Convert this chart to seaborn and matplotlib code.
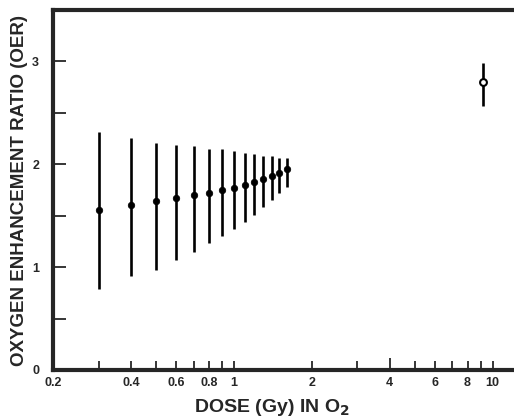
import matplotlib
matplotlib.use("Agg")
import matplotlib.pyplot as plt
import matplotlib.ticker as mticker
import pandas as pd
import seaborn as sns

# doses (Gy) and OER
dose = [0.3, 0.4, 0.5, 0.6, 0.7, 0.8, 0.9, 1.0, 1.1, 1.2, 1.3, 1.4, 1.5, 1.6]
oer = [1.56, 1.60, 1.64, 1.67, 1.70, 1.72, 1.75, 1.77, 1.80, 1.83, 1.86, 1.89, 1.92, 1.95]
oer_low = [0.79, 0.91, 0.97, 1.07, 1.15, 1.23, 1.30, 1.37, 1.44, 1.51, 1.58, 1.65, 1.72, 1.78]
oer_high = [2.31, 2.26, 2.21, 2.19, 2.18, 2.15, 2.15, 2.13, 2.11, 2.10, 2.08, 2.08, 2.06, 2.06]

# single high-dose point (open circle)
dose_hi = [9.2]
oer_hi = [2.80]
oer_hi_low = [2.57]
oer_hi_high = [2.99]

major_x = [0.2, 0.4, 0.6, 0.8, 1, 2, 4, 6, 8, 10]
major_x_labels = ["0.2", "0.4", "0.6", "0.8", "1", "2", "4", "6", "8", "10"]
minor_x = [0.3, 0.5, 0.7, 0.9, 3, 5, 7, 9]

df = pd.DataFrame({"dose": dose, "oer": oer})
df_hi = pd.DataFrame({"dose": dose_hi, "oer": oer_hi})

sns.set_style("ticks")
plt.rcParams["font.family"] = ["Liberation Sans", "DejaVu Sans"]
plt.rcParams["font.weight"] = "bold"

fig = plt.figure(figsize=(5.14, 4.19), dpi=100)
ax = fig.add_axes([0.103, 0.117, 0.897, 0.859])

ax.vlines(dose, oer_low, oer_high, color="black", lw=1.9, zorder=2)
ax.vlines(dose_hi, oer_hi_low, oer_hi_high, color="black", lw=1.9, zorder=2)
sns.scatterplot(data=df, x="dose", y="oer", ax=ax, color="black", s=22,
                edgecolor="black", linewidth=0.5, zorder=3, legend=False)
sns.scatterplot(data=df_hi, x="dose", y="oer", ax=ax, color="white", s=24,
                edgecolor="black", linewidth=1.5, zorder=3, legend=False)

ax.set_xscale("log")
ax.set_xlim(0.2, 12.1)
ax.set_ylim(0, 3.5)

ax.xaxis.set_major_locator(mticker.FixedLocator(major_x))
ax.xaxis.set_major_formatter(mticker.FixedFormatter(major_x_labels))
ax.xaxis.set_minor_locator(mticker.FixedLocator(minor_x))
ax.xaxis.set_minor_formatter(mticker.NullFormatter())
ax.set_yticks([0, 1, 2, 3])
ax.set_yticks([0.5, 1.5, 2.5], minor=True)

ax.tick_params(axis="x", which="both", direction="in", length=6.5, width=1.3,
               labelsize=9, pad=5, top=False)
ax.tick_params(axis="y", which="both", direction="in", length=9.5, width=1.3,
               labelsize=9, pad=10, right=False)
for t in ax.xaxis.get_major_ticks():
    if t.get_loc() in (1, 10):
        t.tick1line.set_markersize(9)
for lab in ax.get_xticklabels() + ax.get_yticklabels():
    lab.set_fontweight("bold")

for side in ("left", "bottom", "top"):
    ax.spines[side].set_linewidth(3)
ax.spines["right"].set_visible(False)

ax.set_xlabel("DOSE (Gy) IN O$_\\mathbf{2}$", fontsize=14, fontweight="bold", labelpad=6)
ax.xaxis.set_label_coords(0.474, -0.075)
ax.set_ylabel("OXYGEN ENHANCEMENT RATIO (OER)", fontsize=13.5, fontweight="bold", labelpad=3)

fig.savefig("out.png", dpi=100)
